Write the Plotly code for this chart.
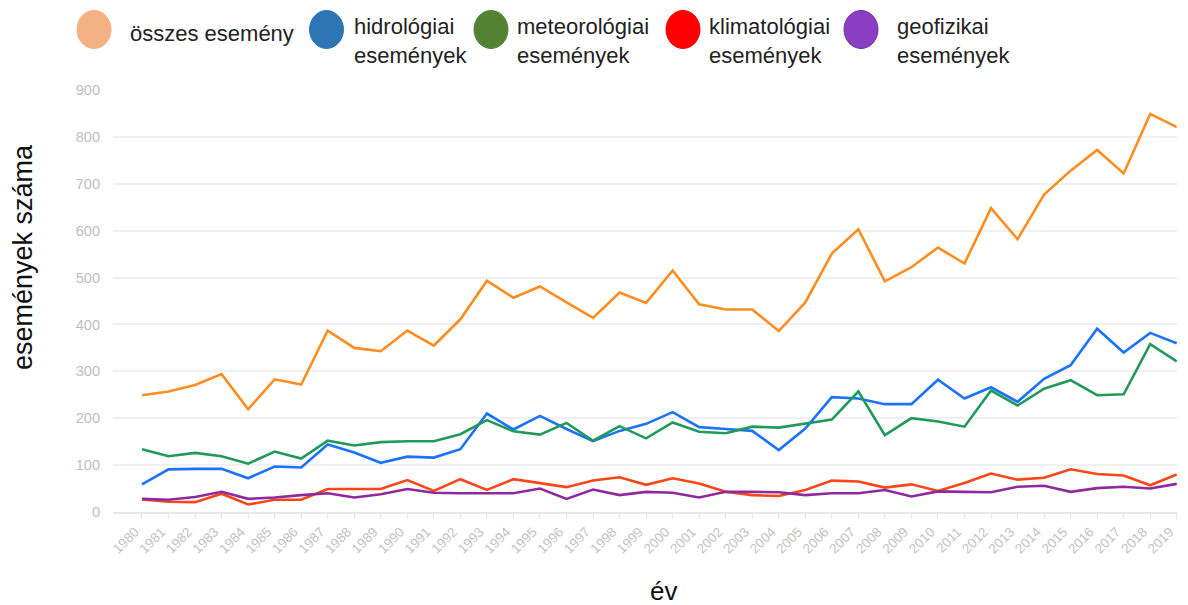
import plotly.graph_objects as go

years = list(range(1980, 2020))
total = [249, 257, 271, 294, 219, 283, 272, 387, 350, 343,
         387, 355, 411, 493, 457, 481, 447, 414, 468, 446,
         515, 443, 432, 432, 386, 447, 551, 603, 492, 522,
         564, 530, 648, 582, 677, 728, 772, 722, 849, 821]
hydro = [59, 91, 92, 92, 72, 97, 95, 144, 127, 105,
         118, 116, 134, 210, 176, 205, 177, 151, 173, 188,
         213, 181, 177, 173, 132, 178, 245, 242, 230, 230,
         282, 242, 266, 235, 284, 313, 391, 340, 382, 360]
meteo = [134, 119, 126, 119, 103, 129, 114, 152, 142, 149,
         151, 151, 166, 196, 172, 165, 190, 152, 183, 157,
         191, 171, 168, 182, 180, 188, 197, 257, 164, 200,
         193, 182, 259, 227, 263, 281, 249, 251, 358, 321]
clim = [27, 22, 21, 39, 16, 26, 26, 49, 49, 49,
        68, 45, 70, 47, 70, 62, 53, 67, 74, 58,
        72, 61, 43, 36, 34, 47, 67, 65, 52, 59,
        45, 62, 82, 69, 73, 91, 81, 78, 57, 80]
geo = [28, 26, 32, 43, 28, 31, 36, 40, 31, 38,
       49, 41, 40, 40, 40, 50, 28, 48, 36, 43,
       41, 31, 43, 43, 42, 36, 40, 40, 47, 33,
       44, 43, 42, 54, 56, 43, 51, 54, 50, 60]

series_names = ["összes esemény", "hidrológiai<br>események", "meteorológiai<br>események",
                "klimatológiai<br>események", "geofizikai<br>események"]
series_values = [total, hydro, meteo, clim, geo]
line_colors = ["#ff8c1f", "#1a72ff", "#1f9a5a", "#ff4516", "#8e2a9e"]
legend_fill = ["#f4b183", "#2e75b6", "#548235", "#ff0000", "#8a3ec4"]
legend_edge = ["#f4b183", "#2e75b6", "#548235", "#ff0000", "#7030a0"]

# page body has an 8px margin on each side; keep the figure (and its last tick label) inside
OFF = 8
RIGHT_EDGE = 1177  # page x of the plot area's right edge
W, H = 1188 - 2 * OFF, 605 - OFF
ML, MT, MB = 113 - OFF, 90 - OFF, 93
MR = W - (RIGHT_EDGE - OFF)
PW, PH = W - ML - MR, H - MT - MB
STEP = (RIGHT_EDGE - 142) / 39.0

def px(x):
    return (x - OFF - ML) / PW

def py(y):
    return (H - MB - (y - OFF)) / PH

FONT = "Liberation Sans, Arial, sans-serif"

fig = go.Figure()
for name, vals, col in zip(series_names, series_values, line_colors):
    fig.add_trace(go.Scatter(x=years, y=vals, mode="lines", name=name.replace("<br>", " "),
                             line=dict(color=col, width=2.6), showlegend=False,
                             hoverinfo="x+y+name"))

# legend drawn manually: ellipses + labels
ell_cx = [94, 326.5, 491, 683, 861]
text_x = [128, 352, 515, 707, 895]
shapes = []
annotations = []
for i, name in enumerate(series_names):
    cx = ell_cx[i]
    shapes.append(dict(type="circle", xref="paper", yref="paper",
                       x0=px(cx - 17), x1=px(cx + 17), y0=py(48.5), y1=py(10.5),
                       fillcolor=legend_fill[i], line=dict(color=legend_edge[i], width=1)))
    lines = name.split("<br>")
    if len(lines) == 1:
        annotations.append(dict(text=lines[0], xref="paper", yref="paper", x=px(text_x[i]), y=py(34),
                                xanchor="left", yanchor="middle", showarrow=False,
                                font=dict(family=FONT, size=22, color="#222222")))
    else:
        for j, ln in enumerate(lines):
            annotations.append(dict(text=ln, xref="paper", yref="paper", x=px(text_x[i]),
                                    y=py(26 + 29.5 * j),
                                    xanchor="left", yanchor="middle", showarrow=False,
                                    font=dict(family=FONT, size=22, color="#222222")))

annotations.append(dict(text="események száma", xref="paper", yref="paper", x=px(23), y=py(257),
                        xanchor="center", yanchor="middle", textangle=-90, showarrow=False,
                        borderpad=0,
                        font=dict(family=FONT, size=27, color="#111111")))
annotations.append(dict(text="év", xref="paper", yref="paper", x=px(663), y=py(591),
                        xanchor="center", yanchor="middle", showarrow=False,
                        font=dict(family=FONT, size=26, color="#111111")))

fig.update_layout(
    width=W, height=H,
    margin=dict(l=ML, r=MR, t=MT, b=MB, pad=0),
    paper_bgcolor="white", plot_bgcolor="white",
    font=dict(family=FONT),
    shapes=shapes, annotations=annotations,
    showlegend=False,
    xaxis=dict(range=[1980 - 29 / STEP, 2019.01], tickmode="array", tickvals=years,
               ticktext=[str(y) for y in years], tickangle=-45,
               tickfont=dict(size=13.5, color="#c2c2c2", family=FONT),
               ticklabeloverflow="allow", ticklabelshift=-7,
               showgrid=False, zeroline=False, showline=True, linecolor="#e6e6e6", linewidth=1.5,
               ticks="outside", ticklen=5, tickcolor="#e6e6e6", tickwidth=1),
    yaxis=dict(range=[0, 900], tickmode="array", tickvals=list(range(0, 901, 100)),
               tickfont=dict(size=14.5, color="#bdbdbd", family=FONT),
               showgrid=True, gridcolor="#f0f0f0", gridwidth=1.5, zeroline=False,
               showline=False, ticks="", ticklabelstandoff=12),
)

fig.write_html("out.html")
